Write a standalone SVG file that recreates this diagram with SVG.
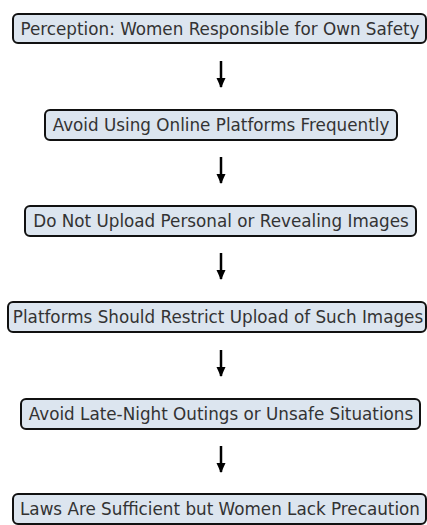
<svg xmlns="http://www.w3.org/2000/svg" width="427" height="525" viewBox="0 0 427 525">
<style>
.box{fill:#dce5ef;stroke:#111;stroke-width:2}
.t{font-family:"DejaVu Sans",sans-serif;font-size:16.8px;fill:#333;text-anchor:middle}
.c{stroke:#000;stroke-width:2.5;fill:none}
</style>
<defs>
<marker id="ah" markerWidth="10" markerHeight="10" refX="9" refY="5" orient="auto" markerUnits="userSpaceOnUse"><path d="M0,0.5 L10,5 L0,9.5 Z" fill="#000"/></marker>
</defs>
<rect width="427" height="525" fill="#fff"/>
<g id="n1"><rect class="box" x="13" y="14" width="413" height="29" rx="5"/><text class="t" x="220" y="34.5">Perception: Women Responsible for Own Safety</text></g>
<g id="n2"><rect class="box" x="45" y="110" width="352" height="30" rx="5"/><text class="t" x="221" y="131">Avoid Using Online Platforms Frequently</text></g>
<g id="n3"><rect class="box" x="25" y="206" width="391" height="30" rx="5"/><text class="t" x="221" y="227">Do Not Upload Personal or Revealing Images</text></g>
<g id="n4"><rect class="box" x="8" y="302" width="418" height="30" rx="5"/><text class="t" x="218" y="323">Platforms Should Restrict Upload of Such Images</text></g>
<g id="n5"><rect class="box" x="21" y="399" width="399" height="30" rx="5"/><text class="t" x="221" y="420">Avoid Late-Night Outings or Unsafe Situations</text></g>
<g id="n6"><rect class="box" x="13" y="494" width="413" height="30" rx="5"/><text class="t" x="220" y="515">Laws Are Sufficient but Women Lack Precaution</text></g>
<g id="connectors">
<line class="c" x1="221" y1="61" x2="221" y2="87" marker-end="url(#ah)"/>
<line class="c" x1="221" y1="157" x2="221" y2="183" marker-end="url(#ah)"/>
<line class="c" x1="221" y1="253" x2="221" y2="279" marker-end="url(#ah)"/>
<line class="c" x1="221" y1="350" x2="221" y2="376" marker-end="url(#ah)"/>
<line class="c" x1="221" y1="446" x2="221" y2="472" marker-end="url(#ah)"/>
</g>
</svg>
